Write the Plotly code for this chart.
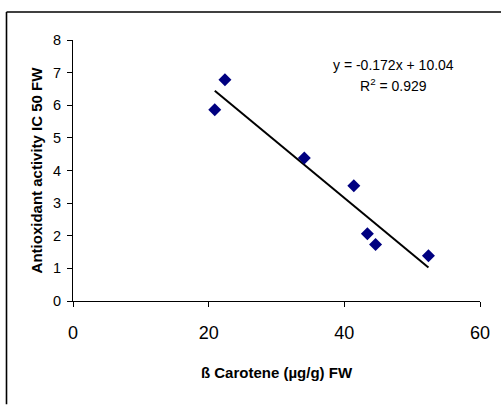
import plotly.graph_objects as go

# Data
carotene = [20.9, 22.4, 34.1, 41.4, 43.4, 44.6, 52.4]
ic50 = [5.86, 6.78, 4.38, 3.53, 2.06, 1.73, 1.39]
slope = -0.172
intercept = 10.04
r2 = 0.929
x_ticks = [0, 20, 40, 60]
y_ticks = [0, 1, 2, 3, 4, 5, 6, 7, 8]

FONT = "Liberation Sans, Arial, sans-serif"

trend_x = [min(carotene), max(carotene)]
trend_y = [slope * v + intercept for v in trend_x]

fig = go.Figure()
fig.add_trace(go.Scatter(x=trend_x, y=trend_y, mode="lines",
                         line=dict(color="black", width=2), showlegend=False,
                         hoverinfo="skip"))
fig.add_trace(go.Scatter(x=carotene, y=ic50, mode="markers",
                         marker=dict(symbol="diamond", size=10, color="#000080",
                                     line=dict(width=0)),
                         showlegend=False))

L, R, T, B = 73, 21, 40, 103.5
W, H = 501, 405
pw = W - L - R
ph = H - T - B

fig.update_layout(
    width=W, height=H,
    margin=dict(l=L, r=R, t=T, b=B, pad=0),
    paper_bgcolor="white", plot_bgcolor="white",
    hovermode=False,
    font=dict(family=FONT, color="black"),
    xaxis=dict(range=[0, 60], tickvals=x_ticks, ticks="outside", ticklen=5,
               tickcolor="black", showline=True, linecolor="black", linewidth=1,
               showgrid=False, zeroline=False, tickfont=dict(size=18),
               ticklabelstandoff=10,
               title=dict(text="<b>ß Carotene (µg/g) FW</b>", font=dict(size=15),
                          standoff=25)),
    yaxis=dict(range=[0, 8], tickvals=y_ticks, ticks="outside", ticklen=5,
               tickcolor="black", showline=True, linecolor="black", linewidth=1,
               showgrid=False, zeroline=False, tickfont=dict(size=14.5),
               ticklabelstandoff=3,
               title=dict(text="<b>Antioxidant activity IC 50 FW</b>", font=dict(size=15),
                          standoff=6)),
)

fig.add_annotation(x=47.3, y=7.23, xref="x", yref="y", showarrow=False,
                   text=f"y = {slope}x + {intercept:.2f}", font=dict(size=14),
                   xanchor="center", yanchor="middle")
fig.add_annotation(x=47.3, y=6.62, xref="x", yref="y", showarrow=False,
                   text=f"R<sup>2</sup> = {r2}", font=dict(size=14),
                   xanchor="center", yanchor="middle")

# outer chart frame (left and top edges visible)
fx0 = (6.5 - L) / pw
fy1 = (H - B - 12) / ph
fy0 = -B / ph
fx1 = (W - L) / pw
fig.add_shape(type="line", xref="paper", yref="paper", x0=fx0, x1=fx0,
              y0=fy0, y1=fy1, line=dict(color="black", width=1.6), layer="below")
fig.add_shape(type="line", xref="paper", yref="paper", x0=fx0, x1=fx1,
              y0=fy1, y1=fy1, line=dict(color="black", width=1.6), layer="below")

fig.write_html("out.html", config={"displayModeBar": False},
               post_script=("document.body.style.margin='0';"
                            "document.body.style.overflow='hidden';"
                            "document.documentElement.style.overflow='hidden';"))
